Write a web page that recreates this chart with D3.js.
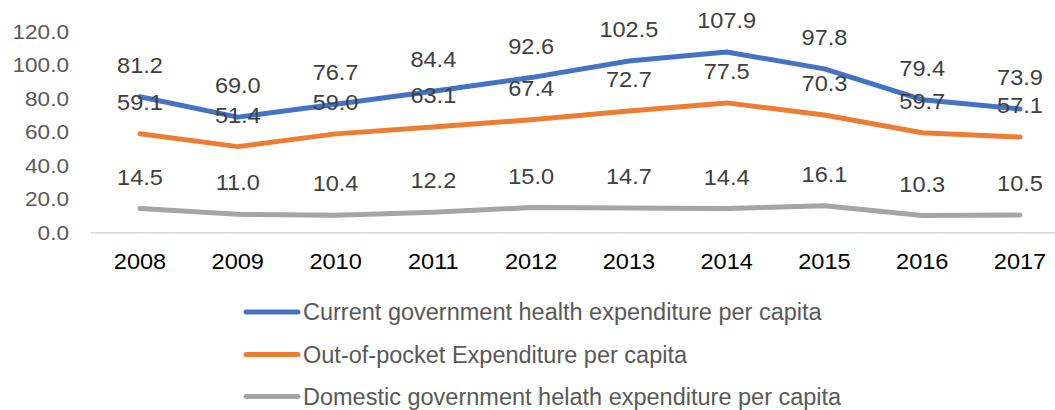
<!DOCTYPE html>
<html>
<head>
<meta charset="utf-8">
<script src="https://cdn.jsdelivr.net/npm/d3@7/dist/d3.min.js"></script>
<style>
  html, body { margin: 0; padding: 0; background: #fff; }
  svg { display: block; font-family: "Liberation Sans", Arial, sans-serif; }
</style>
</head>
<body>
<svg id="chart" width="1055" height="410"></svg>
<script>
// Health expenditure per capita, 2008–2017
const years = ["2008", "2009", "2010", "2011", "2012", "2013", "2014", "2015", "2016", "2017"];
const currentGov = [81.2, 69.0, 76.7, 84.4, 92.6, 102.5, 107.9, 97.8, 79.4, 73.9];
const outOfPocket = [59.1, 51.4, 59.0, 63.1, 67.4, 72.7, 77.5, 70.3, 59.7, 57.1];
const domesticGov = [14.5, 11.0, 10.4, 12.2, 15.0, 14.7, 14.4, 16.1, 10.3, 10.5];
const yTicks = [0, 20, 40, 60, 80, 100, 120];
const seriesNames = [
  "Current government health expenditure per capita",
  "Out-of-pocket Expenditure per capita",
  "Domestic government helath expenditure per capita"
];

const series = [
  { name: seriesNames[0], values: currentGov, color: "#4472C4" },
  { name: seriesNames[1], values: outOfPocket, color: "#ED7D31" },
  { name: seriesNames[2], values: domesticGov, color: "#A5A5A5" }
];

const fmt = d3.format(".1f");
const svg = d3.select("#chart");

const x = d3.scalePoint().domain(years).range([140, 1020]);
const y = d3.scaleLinear().domain([0, 120]).range([232.7, 31.7]);

// Category axis: light baseline plus year labels
svg.append("line")
  .attr("x1", 91).attr("x2", 1069)
  .attr("y1", y(0)).attr("y2", y(0))
  .attr("stroke", "#D9D9D9").attr("stroke-width", 1.5);

svg.append("g").selectAll("text")
  .data(years).join("text")
  .attr("transform", d => `translate(${x(d)},262) scale(1.1,1)`)
  .attr("text-anchor", "middle")
  .attr("dominant-baseline", "central")
  .attr("font-size", 21.4)
  .attr("fill", "#000")
  .text(d => d);

// Value axis labels
const yAxis = d3.axisLeft(y).tickValues(yTicks).tickFormat(fmt).tickSize(0).tickPadding(0);
const gy = svg.append("g").attr("transform", "translate(69,0)").call(yAxis);
gy.select(".domain").remove();
gy.selectAll("text")
  .attr("x", 0)
  .attr("transform", "scale(1.13,1)")
  .attr("font-size", 20)
  .attr("font-family", "Liberation Sans, Arial, sans-serif")
  .attr("fill", "#595959");

// Lines
const line = d3.line()
  .x((d, i) => x(years[i]))
  .y(d => y(d));

svg.append("g").selectAll("path")
  .data(series).join("path")
  .attr("d", d => line(d.values))
  .attr("fill", "none")
  .attr("stroke", d => d.color)
  .attr("stroke-width", 5)
  .attr("stroke-linecap", "round")
  .attr("stroke-linejoin", "round");

// Data labels above each point
series.forEach(s => {
  svg.append("g").selectAll("text")
    .data(s.values).join("text")
    .attr("transform", (d, i) => `translate(${x(years[i])},${y(d) - 31}) scale(1.1,1)`)
    .attr("text-anchor", "middle")
    .attr("dominant-baseline", "central")
    .attr("font-size", 21.4)
    .attr("fill", "#404040")
    .text(d => fmt(d));
});

// Legend
const legendRows = [312, 354.5, 396.5];
const legend = svg.append("g").selectAll("g")
  .data(series).join("g")
  .attr("transform", (d, i) => `translate(0,${legendRows[i]})`);

legend.append("line")
  .attr("x1", 246).attr("x2", 298)
  .attr("y1", 0).attr("y2", 0)
  .attr("stroke", d => d.color)
  .attr("stroke-width", 5)
  .attr("stroke-linecap", "round");

legend.append("text")
  .attr("x", 303)
  .attr("y", 0)
  .attr("dominant-baseline", "central")
  .attr("font-size", 23.5)
  .attr("fill", "#595959")
  .text(d => d.name);
</script>
</body>
</html>
